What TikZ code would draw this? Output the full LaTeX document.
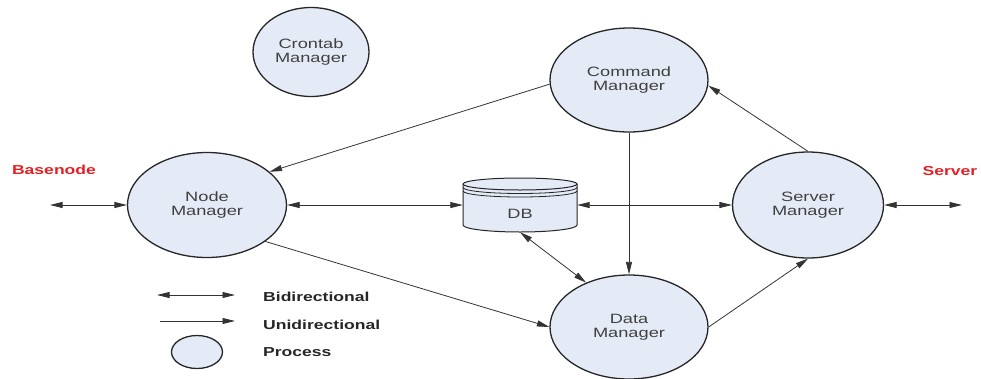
\documentclass[tikz,border=0pt]{standalone}
\usepackage{fontspec}
\setmainfont[FakeStretch=1.35]{Liberation Sans}
\usetikzlibrary{shapes.geometric,arrows.meta}
\definecolor{procfill}{RGB}{228,235,247}
\definecolor{labelred}{RGB}{228,32,38}
\begin{document}
\begin{tikzpicture}[x=1pt,y=-1pt,
  proc/.style={ellipse, draw=black!85, line width=1.3pt, fill=procfill, inner sep=0pt,
    align=center, font=\fontsize{13.5}{14.5}\selectfont, text=black!75},
  link/.style={draw=black!80, line width=0.8pt},
  uni/.style={link, -{Triangle[length=12.5pt,width=6pt]}},
  bi/.style={link, {Triangle[length=12.5pt,width=6pt]}-{Triangle[length=12.5pt,width=6pt]}},
  legtext/.style={anchor=west, inner sep=0pt, font=\bfseries\fontsize{13}{14}\selectfont, text=black!85},
  side/.style={font=\bfseries\fontsize{13}{14}\selectfont, text=labelred}]
\useasboundingbox (0,0) rectangle (981,378);

% processes
\node[proc, minimum width=116pt, minimum height=89pt] (ct) at (311,52) {Crontab\\Manager};
\node[proc, minimum width=158pt, minimum height=104pt] (cm) at (629,80) {Command\\Manager};
\node[proc, minimum width=159pt, minimum height=105pt] (nm) at (207,205) {Node\\Manager};
\node[proc, minimum width=151pt, minimum height=106pt] (sm) at (808,205) {Server\\Manager};
\node[proc, minimum width=158pt, minimum height=104pt] (dm) at (629,327) {Data\\Manager};

% database cylinder
\node[minimum width=114pt, minimum height=54pt, inner sep=0pt] (db) at (520,205) {};
\draw[fill=procfill, line width=1pt, draw=black!85]
  (463,184) -- (463,225) arc[start angle=180, end angle=0, x radius=57, y radius=7]
  -- (577,184) -- cycle;
\draw[fill=procfill, line width=1pt, draw=black!85] (520,184) ellipse [x radius=57, y radius=6];
\draw[line width=0.8pt, draw=black!85] (463,187.5) arc[start angle=180, end angle=0, x radius=57, y radius=6];
\draw[line width=0.8pt, draw=black!85] (463,191) arc[start angle=180, end angle=0, x radius=57, y radius=6];
\node[font=\fontsize{13.5}{14.5}\selectfont, text=black!75] (dbtext) at (520,214) {DB};

% outside endpoints
\coordinate (bl) at (50,205);
\coordinate (sr) at (962,205);
\node[side] (basenode) at (54,170) {Basenode};
\node[side] (server) at (950,171) {Server};

% connectors
\draw[bi] (bl) -- (nm.west);
\draw[bi] (nm.east) -- (db.west);
\draw[bi] (db.east) -- (sm.west);
\draw[bi] (sm.east) -- (sr);
\draw[uni] (cm.183) -- (nm.28);
\draw[uni] (cm.south) -- (dm.north);
\draw[uni] (sm.north) -- (cm.-4);
\draw[bi] (db.south) -- (dm.134);
\draw[uni] (nm.-32) -- (dm.180);
\draw[uni] (dm.east) -- (sm.south);

% legend
\coordinate (lb1) at (157,295);
\coordinate (lb2) at (235,295);
\coordinate (lu1) at (160,321);
\coordinate (lu2) at (235,321);
\draw[bi] (lb1) -- (lb2);
\draw[uni] (lu1) -- (lu2);
\node[proc, minimum width=51pt, minimum height=33pt] (lp) at (197,352) {};
\node[legtext] (tb) at (263,297) {Bidirectional};
\node[legtext] (tu) at (263,325) {Unidirectional};
\node[legtext] (tp) at (263,352) {Process};
\end{tikzpicture}
\end{document}
